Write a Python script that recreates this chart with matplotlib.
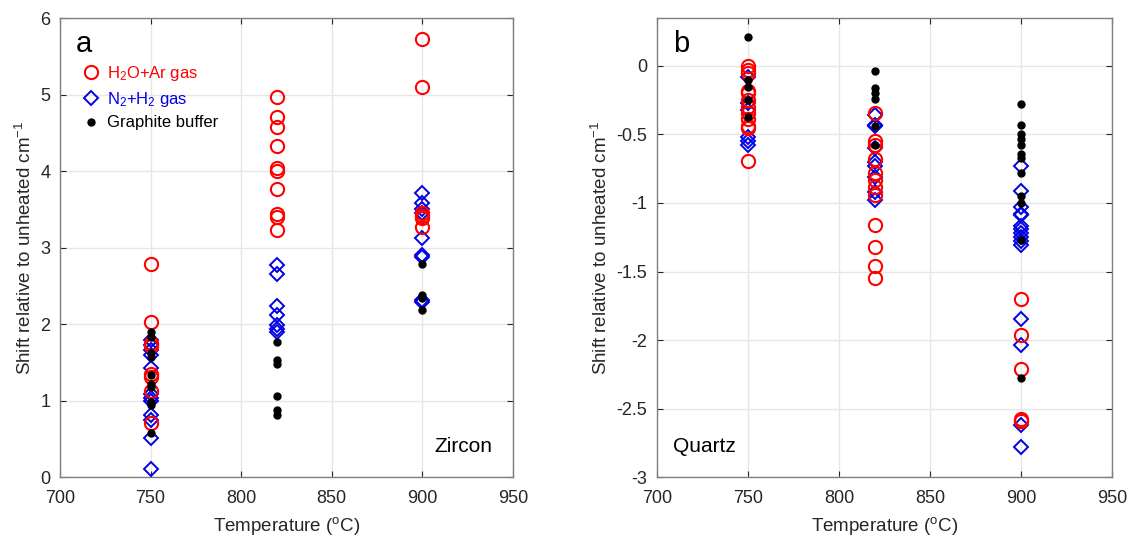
import matplotlib
matplotlib.use('Agg')
import matplotlib.pyplot as plt
from matplotlib.lines import Line2D

plt.rcParams['font.family'] = ['Liberation Sans', 'DejaVu Sans']
plt.rcParams['mathtext.default'] = 'regular'

# Zircon (panel a)
zr_red_750 = [2.78, 2.02, 1.75, 1.71, 1.35, 1.31, 1.13, 0.71]
zr_red_820 = [4.97, 4.70, 4.57, 4.33, 4.04, 4.00, 3.77, 3.44, 3.40, 3.23]
zr_red_900 = [5.72, 5.10, 3.45, 3.41, 3.38, 3.27]
zr_blue_750 = [1.79, 1.73, 1.66, 1.59, 1.42, 1.09, 1.03, 1.00, 0.81, 0.75, 0.51, 0.10]
zr_blue_820 = [2.77, 2.66, 2.23, 2.12, 1.99, 1.94, 1.90]
zr_blue_900 = [3.71, 3.58, 3.51, 3.45, 3.12, 2.90, 2.87, 2.31, 2.29]
zr_blk_750 = [1.90, 1.83, 1.62, 1.57, 1.33, 1.22, 1.18, 0.98, 0.94, 0.58]
zr_blk_820 = [1.76, 1.53, 1.48, 1.06, 0.88, 0.81]
zr_blk_900 = [2.79, 2.38, 2.34, 2.18]

# Quartz (panel b)
qz_red_750 = [0.0, -0.03, -0.05, -0.18, -0.20, -0.25, -0.30, -0.34, -0.39, -0.44, -0.45, -0.69]
qz_red_820 = [-0.34, -0.55, -0.58, -0.68, -0.78, -0.83, -0.88, -0.94, -1.16, -1.32, -1.46, -1.55]
qz_red_900 = [-1.70, -1.96, -2.21, -2.58, -2.59]
qz_blue_750 = [-0.08, -0.27, -0.32, -0.52, -0.55, -0.58]
qz_blue_820 = [-0.36, -0.43, -0.44, -0.60, -0.70, -0.73, -0.81, -0.92, -0.98]
qz_blue_900 = [-0.73, -0.91, -1.03, -1.08, -1.09, -1.17, -1.19, -1.22, -1.25, -1.28, -1.31,
               -1.85, -2.04, -2.62, -2.78]
qz_blk_750 = [0.21, -0.10, -0.15, -0.25, -0.37]
qz_blk_820 = [-0.04, -0.16, -0.20, -0.24, -0.44, -0.58]
qz_blk_900 = [-0.28, -0.43, -0.50, -0.53, -0.58, -0.64, -0.67, -0.78, -0.95, -1.00, -1.27, -2.28]

temps = [750, 820, 900]
RED = '#ff0000'
BLUE = '#0000e6'
TXT = '#262626'


def draw_panel(ax, red, blue, black):
    for t, vals in zip(temps, blue):
        ax.plot([t] * len(vals), vals, linestyle='none', marker='D', markersize=7.5,
                markerfacecolor='none', markeredgecolor=BLUE, markeredgewidth=1.4, zorder=3)
    for t, vals in zip(temps, red):
        ax.plot([t] * len(vals), vals, linestyle='none', marker='o', markersize=9.5,
                markerfacecolor='none', markeredgecolor=RED, markeredgewidth=1.5, zorder=4)
    for t, vals in zip(temps, black):
        ax.plot([t] * len(vals), vals, linestyle='none', marker='o', markersize=5,
                color='black', zorder=5)
    ax.set_xlim(700, 950)
    ax.set_xticks([700, 750, 800, 850, 900, 950])
    ax.grid(True, color='#e6e6e6', linewidth=1.0, zorder=0)
    ax.set_axisbelow(True)
    ax.tick_params(direction='in', top=True, right=True, labelsize=13,
                   colors=TXT, length=4, width=0.8)
    ax.tick_params(axis='x', pad=9)
    ax.tick_params(axis='y', pad=7)
    for s in ax.spines.values():
        s.set_color('#7f7f7f')
        s.set_linewidth(1.0)
    ax.set_xlabel('Temperature ($^\\mathregular{o}$C)', fontsize=13.5, color=TXT, labelpad=6)
    ax.set_ylabel('Shift relative to unheated cm$^{-1}$', fontsize=13.5, color=TXT, labelpad=4)


fig = plt.figure(figsize=(11.29, 5.43), dpi=100)
ax1 = fig.add_axes([0.0531, 0.1215, 0.4013, 0.8453])
ax2 = fig.add_axes([0.5819, 0.1215, 0.4030, 0.8453])

draw_panel(ax1, [zr_red_750, zr_red_820, zr_red_900],
           [zr_blue_750, zr_blue_820, zr_blue_900],
           [zr_blk_750, zr_blk_820, zr_blk_900])
ax1.set_ylim(0, 6)
ax1.set_yticks(range(0, 7))
ax1.text(0.035, 0.975, 'a', transform=ax1.transAxes, fontsize=21, va='top', ha='left')
ax1.text(0.955, 0.045, 'Zircon', transform=ax1.transAxes, fontsize=15, va='bottom', ha='right')

handles = [
    Line2D([], [], linestyle='none', marker='o', markersize=9.5, markerfacecolor='none',
           markeredgecolor=RED, markeredgewidth=1.5),
    Line2D([], [], linestyle='none', marker='D', markersize=7.5, markerfacecolor='none',
           markeredgecolor=BLUE, markeredgewidth=1.4),
    Line2D([], [], linestyle='none', marker='o', markersize=5, color='black'),
]
labels = ['H$_2$O+Ar gas', 'N$_2$+H$_2$ gas', 'Graphite buffer']
leg = ax1.legend(handles, labels, loc='upper left', bbox_to_anchor=(0.015, 0.925),
                 frameon=False, fontsize=12, handletextpad=0.2, handlelength=1.5,
                 labelspacing=0.4, borderaxespad=0.3)
for txt, c in zip(leg.get_texts(), [RED, BLUE, 'black']):
    txt.set_color(c)

draw_panel(ax2, [qz_red_750, qz_red_820, qz_red_900],
           [qz_blue_750, qz_blue_820, qz_blue_900],
           [qz_blk_750, qz_blk_820, qz_blk_900])
ax2.set_ylim(-3, 0.35)
ax2.set_yticks([-3, -2.5, -2, -1.5, -1, -0.5, 0])
ax2.set_yticklabels(['-3', '-2.5', '-2', '-1.5', '-1', '-0.5', '0'])
ax2.text(0.035, 0.975, 'b', transform=ax2.transAxes, fontsize=21, va='top', ha='left')
ax2.text(0.035, 0.045, 'Quartz', transform=ax2.transAxes, fontsize=15, va='bottom', ha='left')

fig.savefig('out.png', dpi=100)
